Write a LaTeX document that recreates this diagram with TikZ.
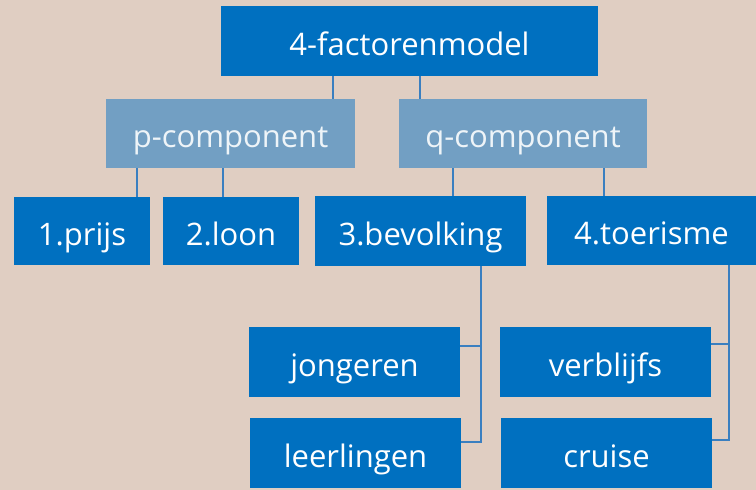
\documentclass[tikz,border=0pt]{standalone}
\usepackage{fontspec}
\setmainfont{Open Sans}
\definecolor{backdrop}{HTML}{E0CEC2}
\definecolor{darkbox}{HTML}{0070C0}
\definecolor{lightbox}{HTML}{729FC3}
\definecolor{wire}{HTML}{3A7FC0}
\tikzset{
  factor/.style={fill=darkbox, text=white, inner sep=0pt, text height=28pt, text depth=0pt, font=\fontsize{31}{34}\selectfont},
  comp/.style={fill=lightbox, text=white!88!lightbox, inner sep=0pt, text height=28pt, text depth=0pt, font=\fontsize{31}{34}\selectfont},
  wire/.style={draw=wire, line width=1.3pt}
}

\begin{document}
\begin{tikzpicture}[x=1pt, y=-1pt]
    \fill [backdrop] (0,0) rectangle (756,490);

    \node [factor, minimum width=377pt, minimum height=70pt] (top) at (409.5, 41) {4-factorenmodel};
    \node [comp, minimum width=249pt, minimum height=69pt] (pcomp) at (230.5, 133.5) {p-component};
    \node [comp, minimum width=248pt, minimum height=69pt] (qcomp) at (523, 133.5) {q-component};

    \node [factor, minimum width=136pt, minimum height=68pt] (prijs) at (82, 231) {1.prijs};
    \node [factor, minimum width=136pt, minimum height=68pt] (loon) at (231, 231) {2.loon};
    \node [factor, minimum width=211pt, minimum height=70pt] (bev) at (420.5, 231) {3.bevolking};
    \node [factor, minimum width=209pt, minimum height=69pt] (toer) at (651.5, 230.5) {4.toerisme};

    \node [factor, minimum width=211pt, minimum height=70pt] (jong) at (354.5, 362) {jongeren};
    \node [factor, minimum width=211pt, minimum height=70pt] (leer) at (355.5, 453) {leerlingen};
    \node [factor, minimum width=211pt, minimum height=70pt] (verb) at (605.5, 362) {verblijfs};
    \node [factor, minimum width=211pt, minimum height=70pt] (cruise) at (606.5, 453) {cruise};

    % top level
    \draw [wire] ([xshift=-76.5pt]top.south) -- ([xshift=-76.5pt]top.south |- pcomp.north);
    \draw [wire] ([xshift=10.5pt]top.south) -- ([xshift=10.5pt]top.south |- qcomp.north);

    % components
    \draw [wire] ([xshift=55pt]prijs.north) -- ([xshift=55pt]prijs.north |- pcomp.south);
    \draw [wire] ([xshift=-8pt]loon.north) -- ([xshift=-8pt]loon.north |- pcomp.south);
    \draw [wire] ([xshift=32.5pt]bev.north) -- ([xshift=32.5pt]bev.north |- qcomp.south);
    \draw [wire] ([xshift=-47.5pt]toer.north) -- ([xshift=-47.5pt]toer.north |- qcomp.south);

    % sub factors
    \coordinate (bevtrunk) at ([xshift=60.5pt]bev.south);
    \coordinate (toertrunk) at ([xshift=77.5pt]toer.south);
    \draw [wire] ([yshift=16pt]jong.east) -| (bevtrunk);
    \draw [wire] ([yshift=11pt]leer.east) -| (bevtrunk);
    \draw [wire] ([yshift=18pt]verb.east) -| (toertrunk);
    \draw [wire] ([yshift=13pt]cruise.east) -| (toertrunk);
\end{tikzpicture}
\end{document}
